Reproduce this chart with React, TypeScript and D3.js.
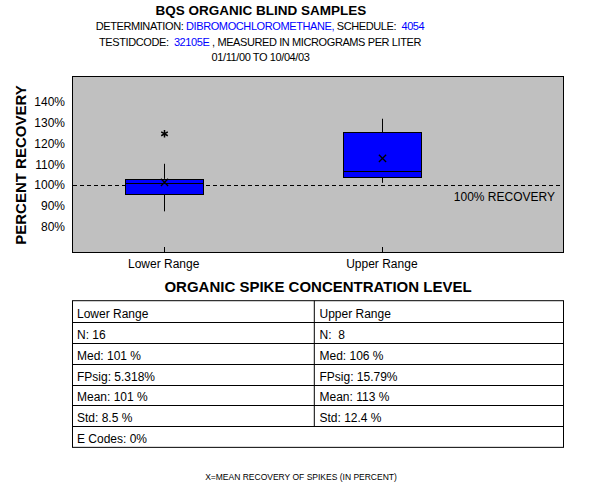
import React from "react";
import * as d3 from "d3";

const categories = ["Lower Range", "Upper Range"];
const whiskerLow = [87.4, 101.0];
const q1 = [95.7, 103.8];
const median = [101.1, 106.5];
const q3 = [102.9, 125.2];
const whiskerHigh = [110.1, 131.6];
const means = [101.2, 112.7];
const outliers = [[124.4], []];
const yTicks = [80, 90, 100, 110, 120, 130, 140];
const referenceValue = 100;

const tableLeftCol = ["Lower Range", "N: 16", "Med: 101 %", "FPsig: 5.318%", "Mean: 101 %", "Std: 8.5 %"];
const tableRightCol = ["Upper Range", "N:  8", "Med: 106 %", "FPsig: 15.79%", "Mean: 113 %", "Std: 12.4 %"];
const tableFooterRow = "E Codes: 0%";

const FONT = "'Liberation Sans', Arial, Helvetica, sans-serif";
const BLUE = "#0000FF";

export default function App() {
  const W = 600;
  const H = 500;
  const plot = { left: 72, right: 563, top: 76, bottom: 252 };

  const y = d3.scaleLinear().domain([68, 152]).range([plot.bottom, plot.top]);
  const x = d3.scaleLinear().domain([-0.42, 1.83]).range([plot.left, plot.right]);
  const boxHalf = 39;

  const timesPath = d3.symbol(d3.symbolTimes, 36)() as string;
  const asteriskPath = d3.symbol(d3.symbolAsterisk, 40)() as string;

  const tableTop = 300.7;
  const rowH = 20.95;
  const colSplit = 314.3;
  const nRows = tableLeftCol.length + 1;

  return (
    <div style={{ position: "absolute", left: 0, top: 0 }}>
      <svg width={W} height={H} style={{ display: "block", background: "#fff" }} fontFamily={FONT}>
        {/* Header */}
        <text x={261} y={15} textAnchor="middle" fontSize={13.5} fontWeight="bold" fill="#000">
          BQS ORGANIC BLIND SAMPLES
        </text>
        <text x={260} y={30} textAnchor="middle" fontSize={11} letterSpacing={-0.4} fill="#000" style={{ whiteSpace: "pre" }}>
          <tspan>DETERMINATION: </tspan>
          <tspan fill={BLUE}>DIBROMOCHLOROMETHANE,</tspan>
          <tspan> SCHEDULE:  </tspan>
          <tspan fill={BLUE}>4054</tspan>
        </text>
        <text x={260} y={46} textAnchor="middle" fontSize={11} letterSpacing={-0.4} fill="#000" style={{ whiteSpace: "pre" }}>
          <tspan>TESTIDCODE:  </tspan>
          <tspan fill={BLUE}>32105E</tspan>
          <tspan> , MEASURED IN MICROGRAMS PER LITER</tspan>
        </text>
        <text x={260.5} y={61} textAnchor="middle" fontSize={11} letterSpacing={-0.4} fill="#000">
          01/11/00 TO 10/04/03
        </text>

        {/* Plot area */}
        <rect
          x={plot.left + 0.5}
          y={plot.top + 0.5}
          width={plot.right - plot.left}
          height={plot.bottom - plot.top}
          fill="#C0C0C0"
          stroke="#000"
          strokeWidth={1}
        />

        {/* Y tick labels */}
        {yTicks.map((t) => (
          <text key={t} x={65} y={y(t) + 4.5} textAnchor="end" fontSize={12} fill="#000">
            {`${t}%`}
          </text>
        ))}

        {/* Y axis title */}
        <text
          transform={`translate(26,${165}) rotate(-90)`}
          textAnchor="middle"
          fontSize={15}
          fontWeight="bold"
          fill="#000"
        >
          PERCENT RECOVERY
        </text>

        {/* Reference line */}
        <line
          x1={plot.left + 1}
          x2={plot.right}
          y1={Math.round(y(referenceValue)) + 0.5}
          y2={Math.round(y(referenceValue)) + 0.5}
          stroke="#000"
          strokeWidth={1}
          strokeDasharray="4,3"
        />
        <text x={555} y={201} textAnchor="end" fontSize={12} fill="#000">
          100% RECOVERY
        </text>

        {/* X ticks and labels */}
        {categories.map((c, i) => (
          <g key={c}>
            <line
              x1={Math.round(x(i)) + 0.5}
              x2={Math.round(x(i)) + 0.5}
              y1={plot.bottom - 5}
              y2={plot.bottom}
              stroke="#000"
            />
            <text x={x(i)} y={268} textAnchor="middle" fontSize={12} fill="#000">
              {c}
            </text>
          </g>
        ))}

        {/* Boxes */}
        {categories.map((c, i) => {
          const cx = Math.round(x(i)) + 0.5;
          return (
            <g key={`box-${c}`}>
              <line x1={cx} x2={cx} y1={y(whiskerHigh[i])} y2={y(q3[i])} stroke="#000" />
              <line x1={cx} x2={cx} y1={y(q1[i])} y2={y(whiskerLow[i])} stroke="#000" />
              <rect
                x={Math.round(x(i) - boxHalf) + 0.5}
                y={Math.round(y(q3[i])) + 0.5}
                width={boxHalf * 2}
                height={Math.round(y(q1[i])) - Math.round(y(q3[i]))}
                fill={BLUE}
                stroke="#000"
                strokeWidth={1}
              />
              <line
                x1={Math.round(x(i) - boxHalf)}
                x2={Math.round(x(i) + boxHalf) + 1}
                y1={Math.round(y(median[i])) + 0.5}
                y2={Math.round(y(median[i])) + 0.5}
                stroke="#000"
              />
              <path
                d={timesPath}
                transform={`translate(${cx},${y(means[i])})`}
                fill="none"
                stroke="#000"
                strokeWidth={1.3}
              />
              {outliers[i].map((o, k) => (
                <path
                  key={k}
                  d={asteriskPath}
                  transform={`translate(${cx},${y(o)})`}
                  fill="none"
                  stroke="#000"
                  strokeWidth={1.5}
                />
              ))}
            </g>
          );
        })}

        {/* Table title */}
        <text x={318} y={292} textAnchor="middle" fontSize={15} fontWeight="bold" fill="#000">
          ORGANIC SPIKE CONCENTRATION LEVEL
        </text>

        {/* Table */}
        <rect
          x={72.5}
          y={tableTop}
          width={plot.right - 72}
          height={rowH * nRows}
          fill="#fff"
          stroke="#000"
          strokeWidth={1}
        />
        {d3.range(1, nRows).map((r) => (
          <line
            key={`row-${r}`}
            x1={72.5}
            x2={plot.right + 0.5}
            y1={Math.round(tableTop + r * rowH) + 0.5}
            y2={Math.round(tableTop + r * rowH) + 0.5}
            stroke="#000"
          />
        ))}
        <line
          x1={colSplit}
          x2={colSplit}
          y1={tableTop}
          y2={Math.round(tableTop + (nRows - 1) * rowH) + 0.5}
          stroke="#000"
        />
        {tableLeftCol.map((t, r) => (
          <text key={`l-${r}`} x={77} y={tableTop + (r + 1) * rowH - 4} fontSize={12} fill="#000" style={{ whiteSpace: "pre" }}>
            {t}
          </text>
        ))}
        {tableRightCol.map((t, r) => (
          <text key={`r-${r}`} x={319.5} y={tableTop + (r + 1) * rowH - 4} fontSize={12} fill="#000" style={{ whiteSpace: "pre" }}>
            {t}
          </text>
        ))}
        <text x={77} y={tableTop + nRows * rowH - 4} fontSize={12} fill="#000" style={{ whiteSpace: "pre" }}>
          {tableFooterRow}
        </text>

        {/* Footer */}
        <text x={301} y={480} textAnchor="middle" fontSize={8.5} fill="#000">
          X=MEAN RECOVERY OF SPIKES (IN PERCENT)
        </text>
      </svg>
    </div>
  );
}
